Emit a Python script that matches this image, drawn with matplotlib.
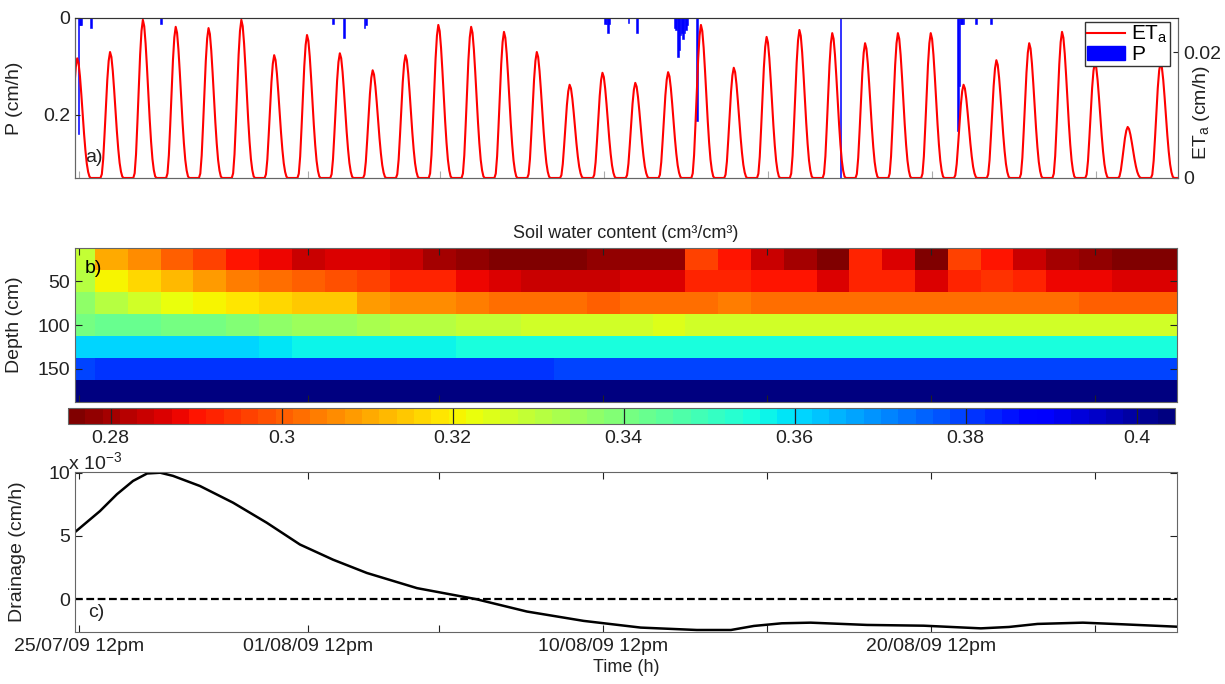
import numpy as np
import matplotlib
import matplotlib.pyplot as plt
from matplotlib.lines import Line2D
from matplotlib.patches import Patch

plt.rcParams['font.family'] = ['Liberation Sans', 'DejaVu Sans']
plt.rcParams['font.size'] = 14
plt.rcParams['mathtext.default'] = 'regular'

# time is in days from 25/07/09 12pm
x_min, x_max = -0.11, 33.49
tick_days = [0, 7, 11, 16, 21, 26, 31]
tick_labels = ['25/07/09 12pm', '01/08/09 12pm', '', '10/08/09 12pm', '', '20/08/09 12pm', '']

# daily peak of actual evapotranspiration (cm/h), day 0..33
eta_peak = [0.019, 0.020, 0.0251, 0.024, 0.0238, 0.0251, 0.0195, 0.0227, 0.0198, 0.0171,
            0.0195, 0.0243, 0.024, 0.0232, 0.020, 0.0148, 0.0167, 0.0151, 0.0168, 0.0243,
            0.0175, 0.0224, 0.0235, 0.023, 0.0214, 0.023, 0.023, 0.0148, 0.0187, 0.0214,
            0.0232, 0.0183, 0.0081, 0.0183]
# fraction of the daily peak for each clock hour 0..23
eta_shape = [0, 0, 0, 0, 0, 0.03, 0.15, 0.35, 0.57, 0.78, 0.93, 1.0,
             0.96, 0.85, 0.70, 0.53, 0.37, 0.23, 0.12, 0.05, 0.01, 0, 0, 0]

# precipitation events (hours from start, cm/h)
p_hours = [0, 1, 2, 9, 60, 186, 194, 209, 210, 385, 386, 387, 388, 402, 408,
           436, 437, 438, 439, 440, 441, 442, 443, 444, 445, 452, 557,
           643, 644, 645, 646, 647, 656, 667]
p_vals = [0.24, 0.014, 0.014, 0.021, 0.012, 0.012, 0.041, 0.02, 0.014, 0.012, 0.012, 0.031, 0.012, 0.01, 0.031,
          0.02, 0.025, 0.08, 0.065, 0.035, 0.03, 0.043, 0.03, 0.025, 0.015, 0.212, 0.36,
          0.233, 0.14, 0.012, 0.012, 0.012, 0.012, 0.012]

# soil water content (cm3/cm3), one value per day and depth
sw_days = list(range(34))
sw_depth = [25, 50, 75, 100, 125, 150, 175]
sw_25 = [0.329, 0.311, 0.306, 0.300, 0.296, 0.291, 0.289, 0.285, 0.286, 0.286, 0.285, 0.281,
         0.279, 0.276, 0.276, 0.276, 0.278, 0.279, 0.279, 0.296, 0.291, 0.284, 0.281, 0.276,
         0.293, 0.286, 0.277, 0.296, 0.290, 0.285, 0.281, 0.278, 0.277, 0.276]
sw_50 = [0.330, 0.321, 0.317, 0.313, 0.309, 0.305, 0.302, 0.300, 0.298, 0.296, 0.293, 0.292,
         0.289, 0.287, 0.285, 0.285, 0.285, 0.286, 0.286, 0.292, 0.293, 0.291, 0.290, 0.287,
         0.292, 0.292, 0.287, 0.292, 0.294, 0.293, 0.289, 0.288, 0.286, 0.286]
sw_75 = [0.336, 0.331, 0.327, 0.323, 0.320, 0.318, 0.316, 0.314, 0.314, 0.309, 0.307, 0.306,
         0.305, 0.303, 0.302, 0.302, 0.301, 0.302, 0.302, 0.303, 0.304, 0.303, 0.302, 0.302,
         0.302, 0.302, 0.302, 0.302, 0.303, 0.303, 0.303, 0.301, 0.301, 0.301]
sw_100 = [0.341, 0.342, 0.343, 0.341, 0.340, 0.338, 0.337, 0.335, 0.334, 0.333, 0.331, 0.330,
          0.329, 0.328, 0.326, 0.326, 0.326, 0.326, 0.324] + [0.326] * 15
sw_125 = [0.361, 0.362, 0.362, 0.362, 0.361, 0.360, 0.358, 0.357, 0.357, 0.356, 0.356, 0.356] + [0.355] * 22
sw_150 = [0.379] + [0.382] * 14 + [0.379] * 19
sw_175 = [0.403] * 34

# drainage (x 1e-3 cm/h)
drain_days = [-0.11, 0.65, 1.17, 1.66, 2.09, 2.49, 2.88, 3.70, 4.71, 5.74, 6.75, 7.76, 8.79,
              10.32, 12.12, 13.67, 15.40, 17.14, 18.85, 19.89, 20.59, 21.44, 22.32, 24.04,
              25.77, 27.51, 28.37, 29.24, 30.62, 31.84, 33.49]
drain_e3 = [5.3, 6.96, 8.3, 9.35, 9.94, 10.0, 9.75, 8.95, 7.63, 6.04, 4.32, 3.12, 2.07,
            0.87, 0.0, -0.98, -1.72, -2.25, -2.44, -2.44, -2.12, -1.91, -1.86, -2.04,
            -2.10, -2.31, -2.2, -1.96, -1.86, -1.99, -2.18]

spine_col = '#666666'
txt_col = '#222222'


def style_axes(ax):
    for s in ax.spines.values():
        s.set_color(spine_col)
        s.set_linewidth(0.8)
    ax.tick_params(colors=txt_col, labelcolor=txt_col, direction='in')


fig = plt.figure(figsize=(12.25, 6.84), dpi=100)

# a) precipitation and ETa
hours = np.arange(-3, 804)
eta = np.array([eta_peak[(h + 12) // 24] * eta_shape[(h + 12) % 24] for h in hours])

ax1 = fig.add_axes([0.0612, 0.7398, 0.9004, 0.2339])
ax1.bar(np.array(p_hours) / 24.0, p_vals, width=1.3 / 24, color='blue', edgecolor='blue',
        linewidth=0.4, align='center')
ax1.set_ylim(0.33, 0)
ax1.set_xlim(x_min, x_max)
ax1.set_yticks([0, 0.2])
ax1.set_yticklabels(['0', '0.2'])
ax1.set_xticks(tick_days)
ax1.set_xticklabels([])
ax1.set_ylabel('P (cm/h)', color=txt_col)
ax1.yaxis.set_label_coords(-0.047, 0.5)
style_axes(ax1)
ax1.tick_params(axis='x', colors='#aaaaaa', length=5)

ax2 = ax1.twinx()
ax2.plot(hours / 24.0, eta, color='red', lw=1.5)
ax2.set_ylim(0, 0.0254)
ax2.set_xlim(x_min, x_max)
ax2.set_yticks([0, 0.02])
ax2.set_yticklabels(['0', '0.02'])
ax2.set_ylabel('ET$_a$ (cm/h)', color=txt_col)
ax2.yaxis.set_label_coords(1.012, 0.41)
style_axes(ax2)
ax2.spines['top'].set_color('#333333')
ax2.legend(handles=[Line2D([], [], color='red', lw=1.5), Patch(color='blue')],
           labels=['ET$_a$', 'P'], loc='upper right', bbox_to_anchor=(0.993, 0.975),
           fontsize=15, fancybox=False, edgecolor='#333333', framealpha=1,
           borderpad=0.1, handlelength=1.8, handletextpad=0.3, labelspacing=0.0,
           borderaxespad=0)
ax1.text(0.009, 0.13, 'a)', transform=ax1.transAxes, ha='left', va='center',
         fontsize=14, color=txt_col)

# b) soil water content
sw = np.array([sw_25, sw_50, sw_75, sw_100, sw_125, sw_150, sw_175])
cmap = matplotlib.colormaps['jet_r'].resampled(64)

ax3 = fig.add_axes([0.0612, 0.4123, 0.8996, 0.2251])
mesh = ax3.pcolormesh(sw_days, sw_depth, sw, cmap=cmap, vmin=0.275, vmax=0.4045,
                      shading='nearest')
ax3.set_xlim(x_min, x_max)
ax3.set_ylim(187.5, 12.5)
ax3.set_yticks([50, 100, 150])
ax3.set_xticks(tick_days)
ax3.set_xticklabels([])
ax3.set_ylabel('Depth (cm)', color=txt_col)
ax3.yaxis.set_label_coords(-0.047, 0.5)
ax3.set_title('Soil water content (cm³/cm³)', fontsize=13, color=txt_col, pad=7)
style_axes(ax3)
ax3.tick_params(top=True, right=True, length=5, colors='#222222')
ax3.text(0.009, 0.87, 'b)', transform=ax3.transAxes, ha='left', va='center',
         fontsize=14, color='black')

cax = fig.add_axes([0.0555, 0.3801, 0.9037, 0.0234])
cb = fig.colorbar(mesh, cax=cax, orientation='horizontal')
cb.set_ticks([0.28, 0.30, 0.32, 0.34, 0.36, 0.38, 0.40])
cb.set_ticklabels(['0.28', '0.3', '0.32', '0.34', '0.36', '0.38', '0.4'])
cb.outline.set_edgecolor(spine_col)
cb.outline.set_linewidth(0.8)
cax.tick_params(direction='in', length=11, width=0.8, top=True, bottom=True,
                colors='#222222', labelcolor=txt_col, pad=4)

# c) drainage
ax4 = fig.add_axes([0.0612, 0.076, 0.8996, 0.234])
ax4.plot(drain_days, drain_e3, color='black', lw=1.8)
ax4.axhline(0, color='black', ls='--', dashes=(3.5, 1.6), lw=1.6)
ax4.set_xlim(x_min, x_max)
ax4.set_ylim(-2.6, 10.06)
ax4.set_yticks([0, 5, 10])
ax4.set_xticks(tick_days)
ax4.set_xticklabels(tick_labels)
ax4.set_xlabel('Time (h)', color=txt_col, labelpad=3, fontsize=13)
ax4.set_ylabel('Drainage (cm/h)', color=txt_col)
ax4.yaxis.set_label_coords(-0.044, 0.5)
style_axes(ax4)
ax4.tick_params(top=True, right=True, length=5)
ax4.tick_params(axis='x', pad=4)
ax4.text(-0.006, 0.99, 'x 10$^{-3}$', transform=ax4.transAxes, ha='left', va='bottom',
         fontsize=14, color=txt_col)
ax4.text(0.012, 0.125, 'c)', transform=ax4.transAxes, ha='left', va='center',
         fontsize=14, color=txt_col)

fig.savefig('out.png', dpi=100)
